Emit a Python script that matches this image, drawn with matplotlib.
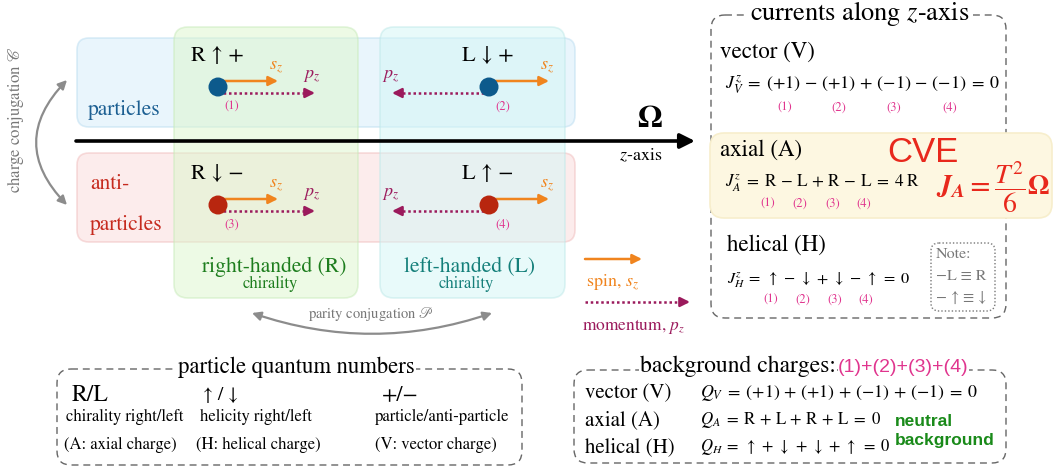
import numpy as np
import matplotlib.pyplot as plt
from matplotlib.patches import FancyBboxPatch, Circle, FancyArrowPatch

plt.rcParams.update({
    "font.family": ["STIXGeneral", "DejaVu Serif"],
    "mathtext.fontset": "stix",
})

# =========================
# DATA (labels of the diagram)
# =========================
particle_labels = ["R ↑ +", "L ↓ +", "R ↓ −", "L ↑ −"]
particle_numbers = ["(1)", "(2)", "(3)", "(4)"]
momentum_sign = [1, -1, 1, -1]
is_particle = [True, True, False, False]

current_names = ["vector (V)", "axial (A)", "helical (H)"]
current_eqs = [
    r"$J_V^z \;=\; (+1) \,-\, (+1) \,+\, (-1) \,-\, (-1) \;=\; 0$",
    r"$J_A^z \;=\; \mathrm{R} \,-\, \mathrm{L} \,+\, \mathrm{R} \,-\, \mathrm{L} \;=\; 4\;\mathrm{R}$",
    r"$J_H^z \;=\; \uparrow \,-\, \downarrow \,+\, \downarrow \,-\, \uparrow \;=\; 0$",
]

charge_names = ["vector (V)", "axial (A)", "helical (H)"]
charge_eqs = [
    r"$Q_V \;=\; (+1) \,+\, (+1) \,+\, (-1) \,+\, (-1) \;=\; 0$",
    r"$Q_A \;=\; \mathrm{R} \,+\, \mathrm{L} \,+\, \mathrm{R} \,+\, \mathrm{L} \;=\; 0$",
    r"$Q_H \;=\; \uparrow \,+\, \downarrow \,+\, \downarrow \,+\, \uparrow \;=\; 0$",
]

qn_symbols = ["R/L", "↑ / ↓", "+/−"]
qn_desc = ["chirality right/left", "helicity right/left", "particle/anti-particle"]
qn_charge = ["(A: axial charge)", "(H: helical charge)", "(V: vector charge)"]

note_lines = ["Note:", "−L ≡ R", "− ↑ ≡ ↓"]

# colours
C_ORANGE = "#f0841e"
C_PURPLE = "#9b1a5c"
C_PINK = "#e0358e"
C_GRAY = "#8c8c8c"
C_BLUE = "#0d5a8c"
C_RED = "#b8260f"

# =========================
# FIGURE (pixel coordinates)
# =========================
fig = plt.figure(figsize=(10.56, 4.70), dpi=100)
ax = fig.add_axes([0, 0, 1, 1])
ax.set_xlim(0, 1056)
ax.set_ylim(470, 0)
ax.axis("off")


def rbox(x0, y0, x1, y1, fc="none", ec="k", lw=1.0, ls="-", r=12, z=1, alpha=1.0):
    p = FancyBboxPatch((x0, y0), x1 - x0, y1 - y0,
                       boxstyle=f"round,pad=0,rounding_size={r}",
                       fc=fc, ec=ec, lw=lw, ls=ls, zorder=z, alpha=alpha)
    ax.add_patch(p)


def arrow(x0, y0, x1, y1, color, lw=1.8, ms=14, z=5):
    ax.annotate("", xy=(x1, y1), xytext=(x0, y0), zorder=z,
                arrowprops=dict(arrowstyle="-|>", color=color, lw=lw,
                                mutation_scale=ms, shrinkA=0, shrinkB=0))


def dotted_arrow(x0, y0, x1, y1, color, lw=1.8, ms=14, z=5):
    s = np.sign(x1 - x0)
    ax.plot([x0, x1 - 8 * s], [y0, y1], ls=(0, (1, 1.1)), color=color, lw=lw,
            zorder=z, solid_capstyle="butt")
    arrow(x1 - 9 * s, y1, x1, y1, color, lw=lw, ms=ms, z=z)


# background boxes
rbox(77, 38, 575, 127, fc="#d5edfb", ec="#b9dcf0", lw=1.2, alpha=0.5, z=1)
rbox(77, 153, 575, 242, fc="#fbdada", ec="#f0bcbc", lw=1.2, alpha=0.5, z=1)
rbox(174, 27, 358, 298, fc="#dcf6cc", ec="#c6eab8", lw=1.2, alpha=0.5, z=2, r=14)
rbox(380, 27, 565, 298, fc="#d3f6f6", ec="#bde8e8", lw=1.2, alpha=0.5, z=2, r=14)

# z axis
ax.annotate("", xy=(695, 141), xytext=(76, 141), zorder=4,
            arrowprops=dict(arrowstyle="-|>", color="k", lw=2.6,
                            mutation_scale=22, shrinkA=0, shrinkB=0))
ax.text(650, 119, r"$\mathbf{\Omega}$", fontsize=23, ha="center", va="center")
ax.text(641, 156, r"$z$-axis", fontsize=13, ha="center", va="center")

# particles
px = [218, 489, 218, 489]
py = [87, 87, 205, 205]
for i in range(4):
    x, y = px[i], py[i]
    col = C_BLUE if is_particle[i] else C_RED
    arrow(x, y - 6, x + 60, y - 6, C_ORANGE)
    dotted_arrow(x, y + 6, x + 97 * momentum_sign[i], y + 6, C_PURPLE)
    ax.add_patch(Circle((x, y), 9.5, fc=col, ec="none", zorder=6))
    ax.text(x - 1, y - 31, particle_labels[i], fontsize=16, ha="center", va="center")
    ax.text(x + 14, y + 20, particle_numbers[i], fontsize=9, color=C_PINK,
            ha="center", va="center")
    ax.text(x + 58, y - 19, r"$s_z$", fontsize=13, color=C_ORANGE, ha="center", va="center")
    ax.text(x + 94 * momentum_sign[i] - (4 if momentum_sign[i] < 0 else 0), y - 10,
            r"$p_z$", fontsize=13, color=C_PURPLE, ha="center", va="center")

ax.text(88, 110, "particles", fontsize=15.5, color="#1c5f92", va="center")
ax.text(90, 184, "anti-", fontsize=15.5, color="#c62a1e", va="center")
ax.text(90, 225, "particles", fontsize=15.5, color="#c62a1e", va="center")

ax.text(274, 267, "right-handed (R)", fontsize=15.5, color="#1d7d1d", ha="center", va="center")
ax.text(270, 284, "chirality", fontsize=12, color="#1d7d1d", ha="center", va="center")
ax.text(470, 267, "left-handed (L)", fontsize=15.5, color="#147f7a", ha="center", va="center")
ax.text(466, 284, "chirality", fontsize=12, color="#147f7a", ha="center", va="center")

# conjugation arrows
ax.add_patch(FancyArrowPatch((67, 80), (67, 205), connectionstyle="arc3,rad=0.48",
                             arrowstyle="<|-|>", mutation_scale=13, color=C_GRAY, lw=1.6,
                             shrinkA=0, shrinkB=0, zorder=3))
ax.text(16, 120, r"charge conjugation $\mathscr{C}$", fontsize=12, color="#777777",
        rotation=90, ha="center", va="center")
ax.add_patch(FancyArrowPatch((252, 313), (492, 313), connectionstyle="arc3,rad=0.17",
                             arrowstyle="<|-|>", mutation_scale=13, color=C_GRAY, lw=1.6,
                             shrinkA=0, shrinkB=0, zorder=3))
ax.text(371, 314, r"parity conjugation $\mathscr{P}$", fontsize=10.5, color="#777777",
        ha="center", va="center")

# legend arrows
arrow(585, 259, 642, 259, C_ORANGE)
ax.text(612, 283, r"spin, $s_z$", fontsize=13, color=C_ORANGE, ha="center", va="center")
dotted_arrow(585, 302, 690, 302, C_PURPLE)
ax.text(634, 326, r"momentum, $p_z$", fontsize=12.5, color=C_PURPLE, ha="center", va="center")

# =========================
# currents panel
# =========================
rbox(711, 15, 1006, 318, ec="#666666", lw=1.0, ls=(0, (5, 3.5)), r=14, z=2)
ax.text(860, 13, r"currents along $z$-axis", fontsize=19, ha="center", va="center",
        bbox=dict(fc="white", ec="none", pad=2), zorder=3)
rbox(710, 133, 1052, 218, fc="#fdf7e1", ec="#f7eecc", lw=1.2, r=14, z=3)

name_y = [52, 150, 245]
eq_y = [85, 183, 280]
eq_fs = [13, 12.3, 11.8]
num_x = [[785, 839, 894, 950], [768, 800, 833, 864], [771, 803, 835, 866]]
num_y = [108, 204, 300]
for k in range(3):
    ax.text(720 if k < 2 else 727, name_y[k], current_names[k], fontsize=16.5, va="center", zorder=5)
    ax.text(725 if k < 2 else 727, eq_y[k], current_eqs[k], fontsize=eq_fs[k], va="center", zorder=5)
    for j in range(4):
        ax.text(num_x[k][j], num_y[k], particle_numbers[j], fontsize=9, color=C_PINK,
                ha="center", va="center", zorder=5)

ax.text(923, 152, "CVE", fontsize=25, color="#e8281c", family="Liberation Sans",
        ha="center", va="center", zorder=5)
ax.text(993, 187, r"$\mathbfit{J}_{\mathbfit{A}} \mathbf{=} \dfrac{T^2}{6}\mathbf{\Omega}$",
        fontsize=20, color="#e8281c", ha="center", va="center", zorder=5)

rbox(931, 243, 995, 311, ec="#777777", lw=1.0, ls=(0, (1, 1.5)), r=8, z=4)
for k, line in enumerate(note_lines):
    ax.text(936, 254 + 22 * k, line, fontsize=11.5, color="#777777", va="center", zorder=5)

# =========================
# particle quantum numbers
# =========================
rbox(57, 369, 522, 465, ec="#666666", lw=1.0, ls=(0, (5, 3.5)), r=14, z=2)
ax.text(296, 367, "particle quantum numbers", fontsize=16.3, ha="center", va="center",
        bbox=dict(fc="white", ec="none", pad=1), zorder=3)
qn_x = [72, 203, 382]
qn_fs = [17, 14, 16]
qn_dx = [66, 200, 375]
qn_cx = [64, 196, 375]
for k in range(3):
    ax.text(qn_x[k], 395, qn_symbols[k], fontsize=qn_fs[k], va="center")
    ax.text(qn_dx[k], 417, qn_desc[k], fontsize=12, va="center")
    ax.text(qn_cx[k], 445, qn_charge[k], fontsize=12, va="center")

# =========================
# background charges
# =========================
rbox(574, 370, 1006, 463, ec="#666666", lw=1.0, ls=(0, (5, 3.5)), r=14, z=2)
ax.text(640, 366, "background charges:", fontsize=17, va="center",
        bbox=dict(fc="white", ec="none", pad=1), zorder=3)
ax.text(838, 367, "(1)+(2)+(3)+(4)", fontsize=14, color=C_PINK, family="Liberation Sans",
        va="center", bbox=dict(fc="white", ec="none", pad=0), zorder=4)
row_y = [393, 420, 447]
ch_fs = [12.9, 12.2, 12]
for k in range(3):
    ax.text(585, row_y[k], charge_names[k], fontsize=15, va="center")
    ax.text(700, row_y[k], charge_eqs[k], fontsize=ch_fs[k], va="center")
ax.text(895, 421, "neutral", fontsize=12.5, color="#198a19", family="Liberation Sans",
        weight="bold", va="center")
ax.text(895, 440, "background", fontsize=12.5, color="#198a19", family="Liberation Sans",
        weight="bold", va="center")

fig.savefig("out.png", dpi=100)
